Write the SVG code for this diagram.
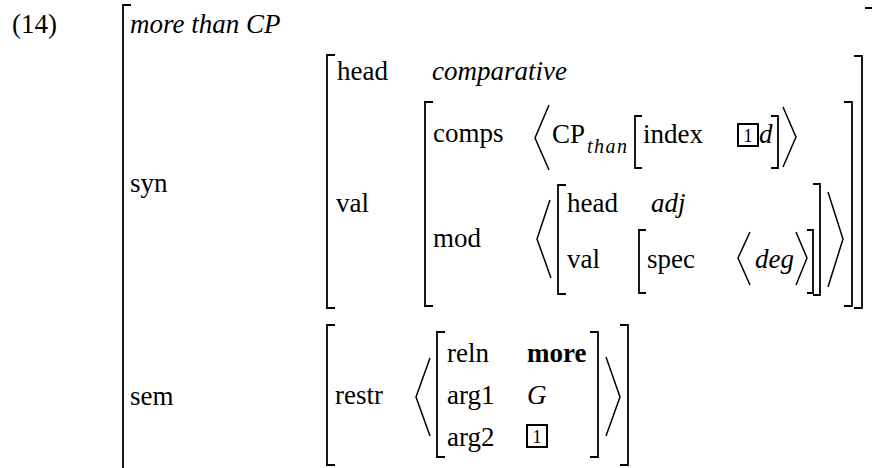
<svg xmlns="http://www.w3.org/2000/svg" width="872" height="468" viewBox="0 0 872 468">
<style>
text{font-family:"Liberation Serif","Times New Roman",serif;font-size:27px;fill:#000}
.it{font-style:italic}
.b{font-weight:bold}
.sub{font-size:20px;font-style:italic;letter-spacing:1.5px}
.br{fill:none;stroke:#000;stroke-width:1.8}
.ang{fill:none;stroke:#000;stroke-width:1.5}
.tag{fill:none;stroke:#000;stroke-width:2}
.tg{font-size:18px;text-anchor:middle}
</style>
<rect width="872" height="468" fill="#fff"/>
<text id="exnum" x="12" y="33">(14)</text>
<g id="outer">
<path class="br" d="M131,5 H123 V470"/>
<path class="br" d="M865,8 H873 V470"/>
<text class="it" x="130" y="33">more than CP</text>
<text x="130" y="192">syn</text>
<text x="130" y="405">sem</text>
</g>
<g id="syn-value">
<path class="br" d="M335,55 H327 V308 H335"/>
<path class="br" d="M854,56 H862 V308 H854"/>
<text x="337" y="80">head</text>
<text class="it" x="432" y="80">comparative</text>
<text x="336" y="212">val</text>
</g>
<g id="val-value">
<path class="br" d="M433,102 H425 V306 H433"/>
<path class="br" d="M844,102 H852 V306 H844"/>
<text x="433" y="142">comps</text>
<text x="433" y="247">mod</text>
</g>
<g id="comps-list">
<polyline class="ang" points="549,105 535,138 549,170"/>
<text x="552" y="143">CP</text>
<text class="sub" x="587" y="153">than</text>
<path class="br" d="M642,116 H635 V168 H642"/>
<text x="643" y="143">index</text>
<rect class="tag" x="738" y="124" width="20" height="22"/>
<text class="tg" x="748" y="142">1</text>
<text class="it" x="759" y="143">d</text>
<path class="br" d="M771,116 H778 V168 H771"/>
<polyline class="ang" points="783,107 796,137 783,167"/>
</g>
<g id="mod-list">
<polyline class="ang" points="550,200 537,239 551,278"/>
<path class="br" d="M566,185 H558 V294 H566"/>
<text x="567" y="212">head</text>
<text class="it" x="651" y="212">adj</text>
<text x="567" y="268">val</text>
<path class="br" d="M646,230 H639 V293 H646"/>
<text x="647" y="268">spec</text>
<polyline class="ang" points="750,232 738,258 750,285"/>
<text class="it" x="755" y="268">deg</text>
<polyline class="ang" points="796,232 807,258 796,285"/>
<path class="br" d="M807,230 H813 V293 H807"/>
<path class="br" d="M813,184 H820 V295 H813"/>
<polyline class="ang" points="828,192 843,239 828,287"/>
</g>
<g id="sem-value">
<path class="br" d="M335,325 H327 V465 H335"/>
<path class="br" d="M620,325 H628 V465 H620"/>
<text x="335" y="404">restr</text>
<polyline class="ang" points="430,358 416,397 430,436"/>
<path class="br" d="M445,332 H437 V457 H445"/>
<path class="br" d="M590,332 H598 V457 H590"/>
<polyline class="ang" points="606,357 620,397 606,436"/>
<text x="447" y="362">reln</text>
<text class="b" x="527" y="362">more</text>
<text x="447" y="404">arg1</text>
<text class="it" x="527" y="404">G</text>
<text x="447" y="446">arg2</text>
<rect class="tag" x="527" y="425" width="20" height="22"/>
<text class="tg" x="537" y="443">1</text>
</g>
</svg>
